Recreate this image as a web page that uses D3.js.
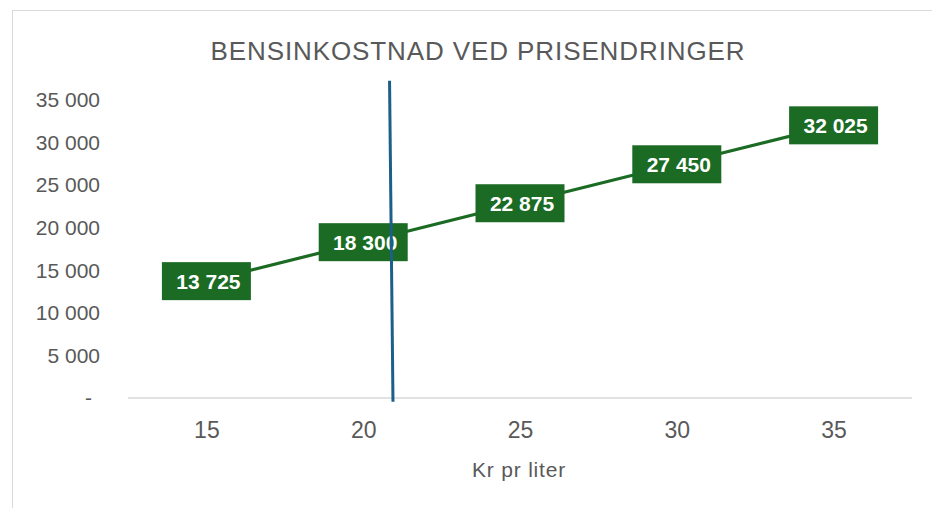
<!DOCTYPE html>
<html><head><meta charset="utf-8">
<script src="https://cdn.jsdelivr.net/npm/d3@7"></script>
<style>
html,body{margin:0;padding:0;background:#fff;}
svg{display:block;}
</style></head>
<body>
<svg id="chart" width="932" height="508"></svg>
<script>
const title = "BENSINKOSTNAD VED PRISENDRINGER";
const xTitle = "Kr pr liter";
const categories = ["15", "20", "25", "30", "35"];
const values = [13725, 18300, 22875, 27450, 32025];
const yTicks = [0, 5000, 10000, 15000, 20000, 25000, 30000, 35000];
// marker line (kr pr liter, cost) endpoints
const markerX = [20.84, 20.95];
const markerY = [37250, -450];

(function () {
const W = 932, H = 508;
const pLeft = 128, pRight = 912, pTop = 100, pBottom = 398;
const svg = d3.select("#chart");
const sans = "'Liberation Sans',Arial,sans-serif";
const textCol = "#595959";

// outer frame
svg.append("rect").attr("x", 12.5).attr("y", 10.5).attr("width", W).attr("height", H)
  .attr("fill", "none").attr("stroke", "#d9d9d9").attr("stroke-width", 1);

const x = d3.scalePoint().domain(categories).range([pLeft, pRight]).padding(0.5);
const xLin = d3.scaleLinear().domain([+categories[0], +categories[categories.length-1]])
  .range([x(categories[0]), x(categories[categories.length-1])]);
const y = d3.scaleLinear().domain([0, 35000]).range([pBottom, pTop]);

// title
svg.append("text").attr("x", 478).attr("y", 60).attr("text-anchor", "middle")
  .attr("font-family", sans).attr("font-size", 26).attr("letter-spacing", 0.9)
  .attr("fill", textCol).text(title);

// y axis labels
const fmt = v => v === 0 ? "-" : d3.format(",")(v).replace(/,/g, " ");
const yAxis = d3.axisLeft(y).tickValues(yTicks).tickSize(0).tickPadding(0).tickFormat(fmt);
const gy = svg.append("g").attr("transform", `translate(100,0)`).call(yAxis);
gy.select(".domain").remove();
gy.selectAll("text").attr("font-family", sans).attr("font-size", 21).attr("fill", textCol)
  .attr("dx", d => d === 0 ? -8 : 0);

// baseline
svg.append("line").attr("x1", pLeft).attr("x2", pRight).attr("y1", pBottom).attr("y2", pBottom)
  .attr("stroke", "#d9d9d9").attr("stroke-width", 1.3);

// x axis labels
const xAxis = d3.axisBottom(x).tickSize(0).tickPadding(0);
const gx = svg.append("g").attr("transform", `translate(0,${pBottom})`).call(xAxis);
gx.select(".domain").remove();
gx.selectAll("text").attr("font-family", sans).attr("font-size", 23).attr("fill", textCol)
  .attr("dy", null).attr("y", 40);

svg.append("text").attr("x", 519).attr("y", 477).attr("text-anchor", "middle")
  .attr("font-family", sans).attr("font-size", 21).attr("letter-spacing", 0.8)
  .attr("fill", textCol).text(xTitle);

// series line
const green = "#1b6b24";
const line = d3.line().x((d, i) => x(categories[i])).y(d => y(d));
svg.append("path").datum(values).attr("d", line).attr("fill", "none")
  .attr("stroke", green).attr("stroke-width", 3.2);

// data labels
const bw = 89, bh = 38;
const lab = svg.append("g").selectAll("g").data(values).join("g")
  .attr("transform", (d, i) => `translate(${x(categories[i])},${y(d)})`);
lab.append("rect").attr("x", -bw/2).attr("y", -bh/2).attr("width", bw).attr("height", bh)
  .attr("fill", green);
lab.append("text").attr("x", 2).attr("y", 7.5).attr("text-anchor", "middle")
  .attr("font-family", sans).attr("font-weight", "bold")
  .attr("font-size", 21).attr("fill", "#fff").text(d => fmt(d));

// marker line
svg.append("line")
  .attr("x1", xLin(markerX[0])).attr("y1", y(markerY[0]))
  .attr("x2", xLin(markerX[1])).attr("y2", y(markerY[1]))
  .attr("stroke", "#1c5f88").attr("stroke-width", 3);
})();
</script>
</body></html>
